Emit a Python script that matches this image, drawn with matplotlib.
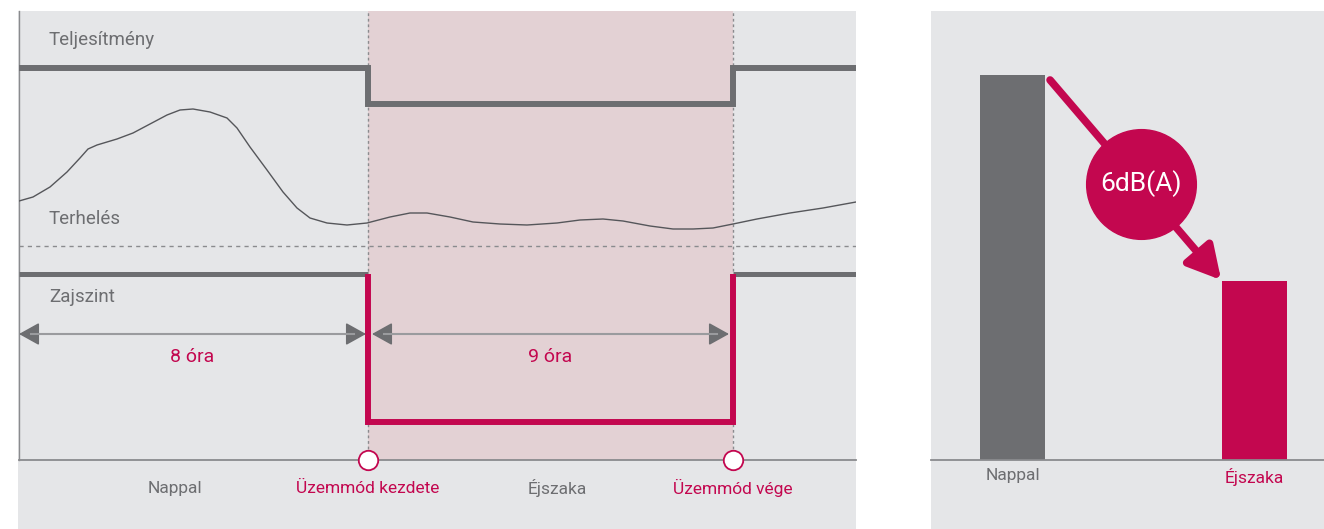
import matplotlib
matplotlib.use('Agg')
import matplotlib.pyplot as plt
from matplotlib.patches import Rectangle

plt.rcParams['font.family'] = ['Roboto', 'DejaVu Sans']

GRAY = '#6d6e71'
LGRAY = '#9a9b9e'
RED = '#c3074f'
BG = '#e5e6e8'
PINK = '#e3d1d4'

# time axis (schematic units) and mode switch points
T_END = 837
MODE_START = 349
MODE_END = 714

# step levels
POWER_HIGH, POWER_LOW = 392, 356
NOISE_HIGH, NOISE_LOW = 186, 38
SEPARATOR = 214
SPAN_Y = 126

# load curve
load_t = [0, 14, 31, 48, 61, 69, 78, 98, 114, 131, 148, 161, 174, 191, 208, 218,
          231, 248, 264, 278, 291, 308, 328, 348, 371, 391, 408, 431, 454, 481,
          508, 538, 561, 584, 604, 631, 654, 674, 694, 714, 738, 771, 804, 837]
load_y = [259, 263, 273, 288, 302, 311, 315, 321, 327, 336, 345, 350, 351, 348,
          342, 332, 313, 290, 268, 252, 242, 237, 235, 237, 243, 247, 247, 243,
          238, 236, 235, 237, 240, 241, 239, 234, 231, 231, 232, 236, 241, 247,
          252, 258]

# bar chart
categories = ['Nappal', 'Éjszaka']
noise_level = [385, 179]
diff_label = '6dB(A)'

fig = plt.figure(figsize=(13.24, 5.29), dpi=100)
W, H = 1324, 529

def px(x0, y0, x1, y1):
    return [x0 / W, 1 - y1 / H, (x1 - x0) / W, (y1 - y0) / H]

for r in (px(18, 11, 856, 529), px(931, 11, 1324, 529)):
    fig.add_artist(Rectangle((r[0], r[1]), r[2], r[3], transform=fig.transFigure,
                             facecolor=BG, edgecolor='none', zorder=0))

# ---- left panel
ax = fig.add_axes(px(19, 11, 856, 460))
ax.set_facecolor('none')
ax.set_xlim(0, T_END)
ax.set_ylim(0, 449)
for s in ('top', 'right'):
    ax.spines[s].set_visible(False)
ax.spines['left'].set_color('#8a8b8e')
ax.spines['bottom'].set_color('#8a8b8e')
ax.spines['left'].set_linewidth(1)
ax.spines['bottom'].set_linewidth(1.3)
ax.set_xticks([])
ax.set_yticks([])

ax.axvspan(MODE_START, MODE_END, color=PINK, lw=0, zorder=1)
for t in (MODE_START, MODE_END):
    ax.axvline(t, color='#8a8b8e', lw=1, ls=(0, (2, 2)), zorder=2)
ax.axhline(SEPARATOR, color='#8a8b8e', lw=1, ls=(0, (3, 3)), zorder=2)

ax.plot([0, MODE_START, MODE_START, MODE_END, MODE_END, T_END],
        [POWER_HIGH, POWER_HIGH, POWER_LOW, POWER_LOW, POWER_HIGH, POWER_HIGH],
        color=GRAY, lw=4.3, solid_joinstyle='miter', solid_capstyle='butt', zorder=3)

ax.plot(load_t, load_y, color='#55565a', lw=1, solid_joinstyle='round', zorder=3)

ax.plot([0, MODE_START], [NOISE_HIGH] * 2, color=GRAY, lw=3.6, solid_capstyle='butt', zorder=3)
ax.plot([MODE_END, T_END], [NOISE_HIGH] * 2, color=GRAY, lw=3.6, solid_capstyle='butt', zorder=3)
ax.plot([MODE_START, MODE_START, MODE_END, MODE_END],
        [NOISE_HIGH, NOISE_LOW, NOISE_LOW, NOISE_HIGH],
        color=RED, lw=4.3, solid_joinstyle='miter', solid_capstyle='butt', zorder=4)

for a, b, lab in ((0, MODE_START - 2, '8 óra'), (MODE_START + 4, MODE_END - 4, '9 óra')):
    ax.annotate('', xy=(b, SPAN_Y), xytext=(a, SPAN_Y),
                arrowprops=dict(arrowstyle='<|-|>,head_length=0.9,head_width=0.5',
                                color=GRAY, lw=1.2, shrinkA=0, shrinkB=0,
                                mutation_scale=14), zorder=3)
    ax.plot([a + 12, b - 12], [SPAN_Y] * 2, color=LGRAY, lw=1.5, zorder=4)
    ax.text((a + b) / 2, SPAN_Y - 23, lab, color=RED, fontsize=14,
            ha='center', va='center', zorder=5)

ax.plot([MODE_START, MODE_END], [0, 0], 'o', ms=14, mfc='white', mec=RED, mew=1.3,
        clip_on=False, zorder=6)

ax.text(30, 420, 'Teljesítmény', color=GRAY, fontsize=13.5, va='center')
ax.text(30, 241, 'Terhelés', color=GRAY, fontsize=13.5, va='center')
ax.text(30, 163, 'Zajszint', color=GRAY, fontsize=13.5, va='center')

for x, lab, c in ((156, 'Nappal', GRAY), (MODE_START, 'Üzemmód kezdete', RED),
                  (538, 'Éjszaka', GRAY), (MODE_END, 'Üzemmód vége', RED)):
    ax.text(x, -28, lab, color=c, fontsize=12.5, ha='center', va='center', clip_on=False)

# ---- right panel
bx = fig.add_axes(px(931, 11, 1324, 460))
bx.set_facecolor('none')
bx.set_xlim(-0.337, 1.287)
bx.set_ylim(0, 449)
for s in ('top', 'right', 'left'):
    bx.spines[s].set_visible(False)
bx.spines['bottom'].set_color('#8a8b8e')
bx.spines['bottom'].set_linewidth(1.3)
bx.set_yticks([])
bx.bar([0, 1], noise_level, width=0.269, color=[GRAY, RED], zorder=2)
bx.set_xticks([0, 1], categories, fontsize=12.5)
bx.tick_params(axis='x', length=0, pad=6)
for lbl, c in zip(bx.get_xticklabels(), [GRAY, RED]):
    lbl.set_color(c)

bx.annotate('', xy=(0.862, noise_level[1] + 1), xytext=(0.155, noise_level[0] - 5),
            arrowprops=dict(arrowstyle='-|>,head_length=1.1,head_width=0.6',
                            color=RED, lw=5.5, shrinkA=0, shrinkB=0, mutation_scale=18),
            zorder=3)
bx.plot([0.531], [276], 'o', ms=79, color=RED, zorder=4)
bx.text(0.531, 276, diff_label, color='white', fontsize=19, ha='center', va='center',
        zorder=5)

fig.savefig('out.png', dpi=100, facecolor='white')
